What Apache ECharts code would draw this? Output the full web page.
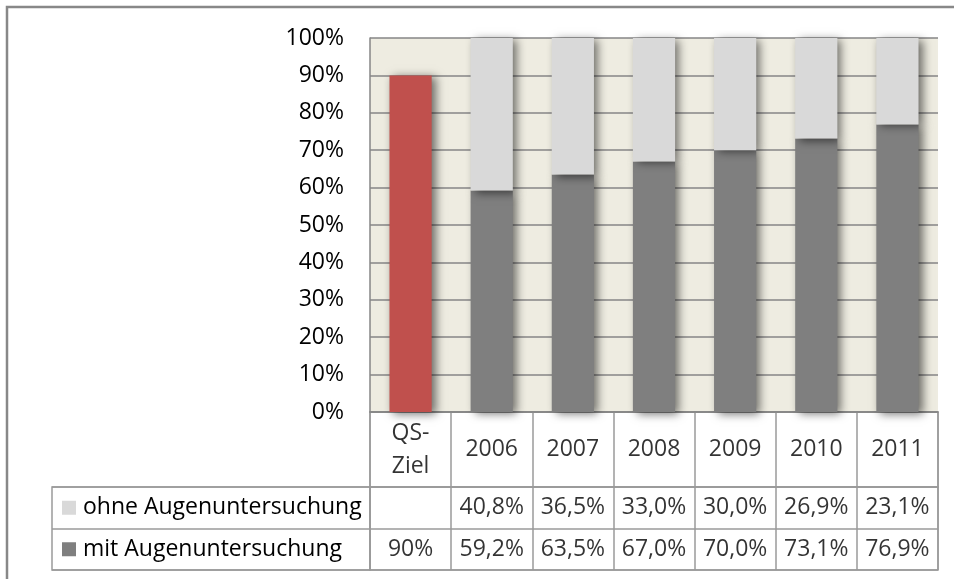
<!DOCTYPE html>
<html>
<head>
<meta charset="utf-8">
<script src="https://cdn.jsdelivr.net/npm/echarts@6/dist/echarts.min.js"></script>
<style>
html, body { margin: 0; padding: 0; background: #fff; }
#chart { width: 954px; height: 579px; }
</style>
</head>
<body>
<div id="chart"></div>
<script>
// Daten
const categories = ["QS-Ziel", "2006", "2007", "2008", "2009", "2010", "2011"]
const rowNames = ["ohne Augenuntersuchung", "mit Augenuntersuchung"]
const mitValues = [90, 59.2, 63.5, 67.0, 70.0, 73.1, 76.9]
const ohneValues = [null, 40.8, 36.5, 33.0, 30.0, 26.9, 23.1]

const font = "Open Sans"
const lineColor = "#9a9a9a"
const gridColor = "#868686"

function fmt(v, i) {
	if (v == null) return ""
	return (i === 0 ? String(v) : v.toFixed(1).replace(".", ",")) + "%"
}

const shadow = {
	shadowColor: "rgba(0, 0, 0, 0.55)",
	shadowBlur: 9,
	shadowOffsetX: 4,
	shadowOffsetY: 2
}

// Tabellenzellen
const headerCells = categories.map((c, i) => [i, 0])
const valueCells = []
categories.forEach((c, i) => {
	valueCells.push([i, 0, ohneValues[i]])
	valueCells.push([i, 1, mitValues[i]])
})

const chart = echarts.init(document.getElementById("chart"))

const tableLine = { show: true, lineStyle: { color: lineColor, width: 1.5 } }
const tableBox = { show: true, borderColor: lineColor, borderWidth: 1.5, backgroundColor: "transparent" }

chart.setOption({
	animation: false,
	textStyle: { fontFamily: font, color: "#000" },
	graphic: [
		{
			type: "rect",
			silent: true,
			shape: { x: 7, y: 7, width: 1000, height: 1000 },
			style: { fill: "none", stroke: "#888", lineWidth: 2.5 }
		}
	],
	grid: [
		{ left: 370, right: 16, top: 38, bottom: 167, show: true, backgroundColor: "#EEECE1", borderWidth: 0 },
		Object.assign({ left: 370, right: 16, top: 412, bottom: 92 }, tableBox),
		Object.assign({ left: 370, right: 16, top: 487, bottom: 9 }, tableBox),
		Object.assign({ left: 52, right: 584, top: 487, bottom: 9 }, tableBox)
	],
	xAxis: [
		{
			type: "category",
			gridIndex: 0,
			data: categories,
			axisLabel: { show: false },
			axisTick: { show: false },
			axisLine: { lineStyle: { color: gridColor, width: 1.5 } }
		},
		{
			type: "category",
			gridIndex: 1,
			data: categories,
			axisLabel: { show: false },
			axisTick: { show: false },
			axisLine: { show: false },
			splitLine: Object.assign({ interval: 0 }, tableLine)
		},
		{
			type: "category",
			gridIndex: 2,
			data: categories,
			axisLabel: { show: false },
			axisTick: { show: false },
			axisLine: { show: false },
			splitLine: Object.assign({ interval: 0 }, tableLine)
		},
		{ type: "value", gridIndex: 3, show: false }
	],
	yAxis: [
		{
			type: "value",
			gridIndex: 0,
			min: 0,
			max: 100,
			interval: 10,
			axisTick: { show: false },
			axisLine: { show: true, lineStyle: { color: gridColor, width: 1.5 } },
			axisLabel: { formatter: "{value}%", fontSize: 23, color: "#000", margin: 26 },
			splitLine: { lineStyle: { color: gridColor, width: 1.5 } }
		},
		{ type: "category", gridIndex: 1, data: ["kopf"], show: false },
		{
			type: "category",
			gridIndex: 2,
			data: rowNames,
			inverse: true,
			axisLabel: { show: false },
			axisTick: { show: false },
			axisLine: { show: false },
			splitLine: Object.assign({ interval: 0 }, tableLine)
		},
		{
			type: "category",
			gridIndex: 3,
			data: rowNames,
			inverse: true,
			axisTick: { show: false },
			axisLine: { show: false },
			splitLine: Object.assign({ interval: 0 }, tableLine),
			axisLabel: {
				inside: true,
				margin: 10,
				formatter: (v, i) => "{sq" + i + "|}{t|" + v + "}",
				rich: {
					sq0: { width: 14, height: 14, backgroundColor: "#D9D9D9" },
					sq1: { width: 14, height: 14, backgroundColor: "#7F7F7F" },
					t: { fontSize: 23, color: "#000", padding: [0, 0, 0, 7] }
				}
			}
		}
	],
	series: [
		{
			name: rowNames[1],
			type: "bar",
			stack: "gesamt",
			barWidth: "52%",
			data: mitValues.map((v, i) => (i === 0 ? { value: v, itemStyle: { color: "#C0504D" } } : v)),
			itemStyle: Object.assign({ color: "#7F7F7F" }, shadow)
		},
		{
			name: rowNames[0],
			type: "bar",
			stack: "gesamt",
			barWidth: "52%",
			data: ohneValues.map(v => (v == null ? "-" : v)),
			itemStyle: Object.assign({ color: "#D9D9D9" }, shadow)
		},
		{
			type: "scatter",
			xAxisIndex: 1,
			yAxisIndex: 1,
			silent: true,
			symbolSize: 2,
			itemStyle: { color: "rgba(0,0,0,0)" },
			data: headerCells,
			label: {
				show: true,
				position: "inside",
				fontSize: 23,
				lineHeight: 33,
				color: "#000",
				formatter: p => categories[p.data[0]].replace("QS-", "QS-\n")
			}
		},
		{
			type: "scatter",
			xAxisIndex: 2,
			yAxisIndex: 2,
			silent: true,
			symbolSize: 2,
			itemStyle: { color: "rgba(0,0,0,0)" },
			data: valueCells,
			label: {
				show: true,
				position: "inside",
				fontSize: 23,
				color: "#000",
				formatter: p => fmt(p.data[2], p.data[0])
			}
		}
	]
})
</script>
</body>
</html>
